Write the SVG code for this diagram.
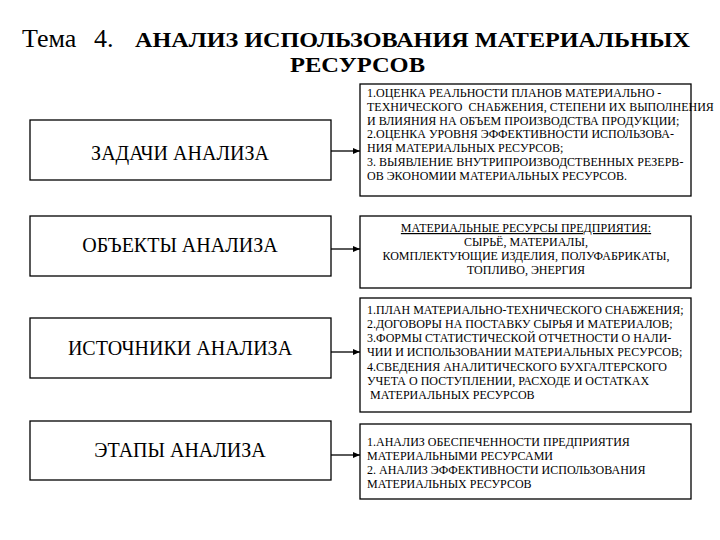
<svg xmlns="http://www.w3.org/2000/svg" width="720" height="540" viewBox="0 0 720 540">
<style>
text{font-family:"Liberation Serif","DejaVu Serif",serif;fill:#000}
.box{fill:#fff;stroke:#000;stroke-width:1.3}
.lbl{font-size:20px;text-anchor:middle}
.sm{font-size:12px}
.ctr{text-anchor:middle}
.ul{text-decoration:underline}
.conn{stroke:#000;stroke-width:1.3;fill:none}
</style>
<defs>
<marker id="ah" markerWidth="7" markerHeight="6" refX="7" refY="3" orient="auto" markerUnits="userSpaceOnUse">
<path d="M0,0 L7,3 L0,6 Z" fill="#000"/>
</marker>
</defs>
<rect width="720" height="540" fill="#fff"/>
<g id="title">
<text x="22" y="47" font-size="26">Тема</text>
<text x="94" y="47" font-size="26">4.</text>
<text x="135" y="47" font-size="21" font-weight="bold" textLength="555" lengthAdjust="spacingAndGlyphs">АНАЛИЗ ИСПОЛЬЗОВАНИЯ МАТЕРИАЛЬНЫХ</text>
<text x="290" y="72" font-size="22" font-weight="bold" textLength="135" lengthAdjust="spacingAndGlyphs">РЕСУРСОВ</text>
</g>
<g id="zadachi">
<rect class="box" x="30" y="120" width="301" height="60"/>
<text class="lbl" x="180" y="160">ЗАДАЧИ АНАЛИЗА</text>
</g>
<g id="obekty">
<rect class="box" x="30" y="216" width="301" height="60"/>
<text class="lbl" x="180" y="252">ОБЪЕКТЫ АНАЛИЗА</text>
</g>
<g id="istochniki">
<rect class="box" x="30" y="318" width="301" height="60"/>
<text class="lbl" x="180" y="355">ИСТОЧНИКИ АНАЛИЗА</text>
</g>
<g id="etapy">
<rect class="box" x="30" y="421" width="301" height="59"/>
<text class="lbl" x="180" y="457">ЭТАПЫ АНАЛИЗА</text>
</g>
<g id="zadachi-detail">
<rect class="box" x="360" y="84" width="331" height="112"/>
<text class="sm" x="367" y="97">1.ОЦЕНКА РЕАЛЬНОСТИ ПЛАНОВ МАТЕРИАЛЬНО -</text>
<text class="sm" x="367" y="111">ТЕХНИЧЕСКОГО&#160; СНАБЖЕНИЯ, СТЕПЕНИ ИХ ВЫПОЛНЕНИЯ</text>
<text class="sm" x="367" y="125">И ВЛИЯНИЯ НА ОБЪЕМ ПРОИЗВОДСТВА ПРОДУКЦИИ;</text>
<text class="sm" x="367" y="138">2.ОЦЕНКА УРОВНЯ ЭФФЕКТИВНОСТИ ИСПОЛЬЗОВА-</text>
<text class="sm" x="367" y="152">НИЯ МАТЕРИАЛЬНЫХ РЕСУРСОВ;</text>
<text class="sm" x="367" y="166">3. ВЫЯВЛЕНИЕ ВНУТРИПРОИЗВОДСТВЕННЫХ РЕЗЕРВ-</text>
<text class="sm" x="367" y="180">ОВ ЭКОНОМИИ МАТЕРИАЛЬНЫХ РЕСУРСОВ.</text>
</g>
<g id="obekty-detail">
<rect class="box" x="360" y="216" width="331" height="72"/>
<text class="sm ctr ul" x="526" y="232">МАТЕРИАЛЬНЫЕ РЕСУРСЫ ПРЕДПРИЯТИЯ:</text>
<text class="sm ctr" x="526" y="246">СЫРЬЁ, МАТЕРИАЛЫ,</text>
<text class="sm ctr" x="526" y="260">КОМПЛЕКТУЮЩИЕ ИЗДЕЛИЯ, ПОЛУФАБРИКАТЫ,</text>
<text class="sm ctr" x="526" y="274">ТОПЛИВО, ЭНЕРГИЯ</text>
</g>
<g id="istochniki-detail">
<rect class="box" x="360" y="298" width="331" height="114"/>
<text class="sm" x="367" y="314">1.ПЛАН МАТЕРИАЛЬНО-ТЕХНИЧЕСКОГО СНАБЖЕНИЯ;</text>
<text class="sm" x="367" y="328">2.ДОГОВОРЫ НА ПОСТАВКУ СЫРЬЯ И МАТЕРИАЛОВ;</text>
<text class="sm" x="367" y="342">3.ФОРМЫ СТАТИСТИЧЕСКОЙ ОТЧЕТНОСТИ О НАЛИ-</text>
<text class="sm" x="367" y="356">ЧИИ И ИСПОЛЬЗОВАНИИ МАТЕРИАЛЬНЫХ РЕСУРСОВ;</text>
<text class="sm" x="367" y="371">4.СВЕДЕНИЯ АНАЛИТИЧЕСКОГО БУХГАЛТЕРСКОГО</text>
<text class="sm" x="367" y="385">УЧЕТА О ПОСТУПЛЕНИИ, РАСХОДЕ И ОСТАТКАХ</text>
<text class="sm" x="370" y="399">МАТЕРИАЛЬНЫХ РЕСУРСОВ</text>
</g>
<g id="etapy-detail">
<rect class="box" x="360" y="424" width="331" height="75"/>
<text class="sm" x="367" y="446">1.АНАЛИЗ ОБЕСПЕЧЕННОСТИ ПРЕДПРИЯТИЯ</text>
<text class="sm" x="367" y="460">МАТЕРИАЛЬНЫМИ РЕСУРСАМИ</text>
<text class="sm" x="367" y="474">2. АНАЛИЗ ЭФФЕКТИВНОСТИ ИСПОЛЬЗОВАНИЯ</text>
<text class="sm" x="367" y="488">МАТЕРИАЛЬНЫХ РЕСУРСОВ</text>
</g>
<g id="connectors">
<line class="conn" x1="331" y1="151" x2="360" y2="151" marker-end="url(#ah)"/>
<line class="conn" x1="331" y1="249" x2="360" y2="249" marker-end="url(#ah)"/>
<line class="conn" x1="331" y1="352" x2="360" y2="352" marker-end="url(#ah)"/>
<line class="conn" x1="331" y1="455" x2="360" y2="455" marker-end="url(#ah)"/>
</g>
</svg>
